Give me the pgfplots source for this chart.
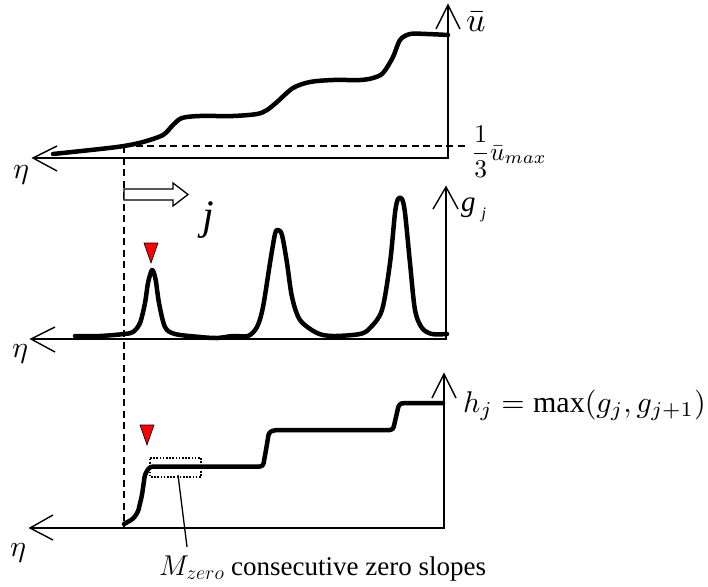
\documentclass[border=0pt]{standalone}
\usepackage{graphicx}
\usepackage{fontspec}
\setmainfont{Liberation Serif}
\usepackage{pgfplots}
\pgfplotsset{compat=1.18}

% curve coordinates (screen units, y grows downward)
\pgfplotstableread{
x y
53 154
100 149
124 146
143 142
163 135
173 125
182 118
200 116
233 116
257 114
267 110
277 102
293 88
310 82
333 80
360 80
373 78
383 73
393 57
400 40
410 34
427 34
448 35
}\ubar
\pgfplotstableread{
x y
75 336
100 336
124 334
133 332
140 323
145 303
148 283
152 270
155.5 279
159 303
165 327
175 334
200 337
217 338
233 336
248 336
257 327
263 307
270 263
275 234
278 230
282 235
287 263
292 297
300 320
317 333
333 336
360 334
370 328
382 310
390 263
395 213
398 199
402 199
405 213
410 263
415 310
422 328
432 334
447 334
}\gcurve
\pgfplotstableread{
x y
124 524
133 519
138 512
142 495
145 474
150 466.5
263 466.5
266 450
269 432
275 430
393 430
396 417
399 404
404 403
443 403
}\hcurve

\begin{document}
\begin{tikzpicture}
\useasboundingbox (0,0) rectangle (708pt,586pt);
\begin{axis}[
  at={(0,0)}, anchor=south west,
  scale only axis, width=708pt, height=586pt,
  xmin=0, xmax=708, ymin=0, ymax=586, y dir=reverse,
  hide axis, clip=false,
  axisline/.style={black, line width=1.4pt, line join=miter, mark=none},
  curve/.style={black, line width=4.5pt, line cap=round, line join=round, mark=none},
  guide/.style={black, line width=1.3pt, dash pattern=on 7pt off 4.5pt, mark=none},
]
% ---- top panel: mean velocity
\addplot[axisline] coordinates {(33,158) (448,158) (448,5)};
\addplot[axisline] coordinates {(57,146) (33,158) (57,171)};
\addplot[axisline] coordinates {(436,29) (448,5) (460,29)};
\addplot[guide] coordinates {(124,146) (465,146)};
\addplot[curve, smooth, tension=0.5] table {\ubar};

% ---- middle panel: g_j
\addplot[axisline] coordinates {(31,339) (446,339) (446,187)};
\addplot[axisline] coordinates {(55,327) (31,339) (55,352)};
\addplot[axisline] coordinates {(433,209) (446,187) (458,209)};
\addplot[curve, smooth, tension=0.5] table {\gcurve};
\addplot[fill=red, draw=black, line width=0.6pt, mark=none] coordinates {(144,243) (158,243) (151,263)} -- cycle;

% ---- bottom panel: h_j
\addplot[axisline] coordinates {(30,528) (444,528) (444,374)};
\addplot[axisline] coordinates {(53,515) (30,528) (53,540)};
\addplot[axisline] coordinates {(432,398) (444,374) (456,398)};
\addplot[curve, sharp plot, rounded corners=3pt] table {\hcurve};
\addplot[fill=red, draw=black, line width=0.6pt, mark=none] coordinates {(140,425) (154,425) (147,445)} -- cycle;
\addplot[black, line width=1.2pt, dash pattern=on 1.6pt off 1.6pt, mark=none] coordinates {(150,458) (201,458) (201,477) (150,477)} -- cycle;
\addplot[black, line width=1.3pt, mark=none] coordinates {(178,475) (187,547)};

% ---- shared guide and direction arrow
\addplot[guide] coordinates {(124,146) (124,528)};
\addplot[black, fill=white, line width=1.3pt, line join=miter, mark=none] coordinates {(124,189) (173,189) (173,183) (188,194.5) (173,206) (173,200) (124,200)} -- cycle;

% ---- labels (math set at 10pt and enlarged)
\node[anchor=base west, inner sep=0pt] at (axis cs:13,178) {\scalebox{3.0}{$\eta$}};
\node[anchor=base west, inner sep=0pt] at (axis cs:12,357) {\scalebox{3.0}{$\eta$}};
\node[anchor=base west, inner sep=0pt] at (axis cs:10,556) {\scalebox{3.0}{$\eta$}};
\node[anchor=base west, inner sep=0pt] at (axis cs:466,32) {\scalebox{3.4}{$\bar{u}$}};
\node[anchor=west, inner sep=0pt] at (axis cs:471,152) {\scalebox{2.55}{$\displaystyle\frac{1}{3}\bar{u}_{max}$}};
\node[anchor=base west, inner sep=0pt, font=\fontsize{29}{29}\selectfont\itshape] at (axis cs:461,211) {g\hspace{6pt}\raisebox{-7pt}{\fontsize{16}{16}\selectfont j}};
\node[anchor=base west, inner sep=0pt, font=\fontsize{42}{42}\selectfont\itshape] at (axis cs:202,229) {j};
\node[anchor=base west, inner sep=0pt] at (axis cs:463,412) {\scalebox{3.0}{$h_j = \max(g_j, g_{j+1})$}};
\node[anchor=base west, inner sep=0pt, font=\fontsize{27}{27}\selectfont] at (axis cs:159,575) {\scalebox{1.15}{$M_{zero}$} consecutive zero slopes};
\end{axis}
\end{tikzpicture}
\end{document}
